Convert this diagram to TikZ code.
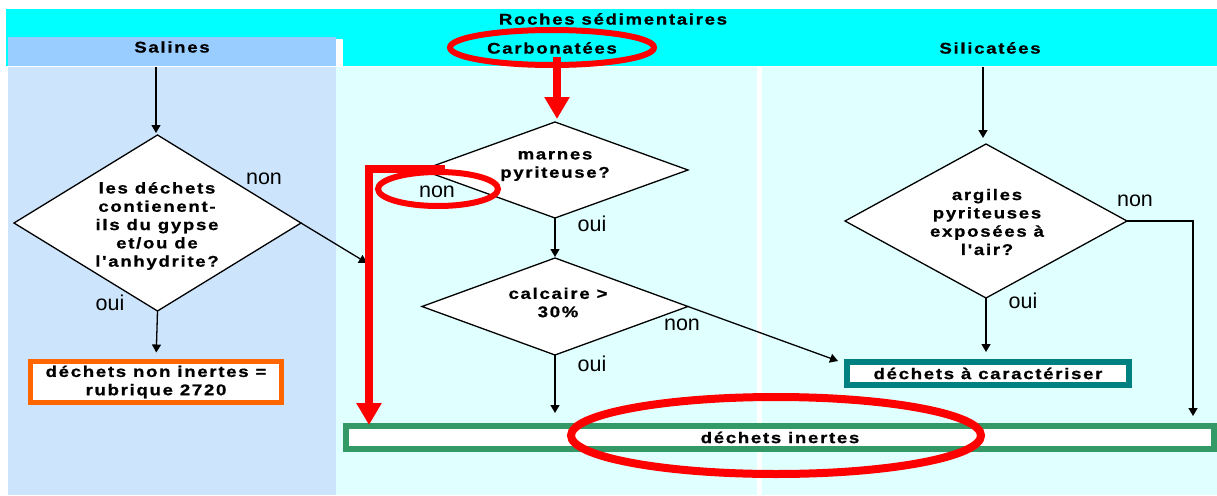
\documentclass[tikz,border=0pt]{standalone}
\usepackage{fontspec}
\setmainfont{Liberation Sans}
\newfontfamily\bsp{Liberation Sans}[LetterSpace=11,FakeStretch=1.2,FakeBold=0.8,Ligatures=TeXOff]
\usetikzlibrary{shapes.geometric,arrows.meta}
\definecolor{cyanb}{HTML}{00FFFF}
\definecolor{salhc}{HTML}{99CCFF}
\definecolor{salcc}{HTML}{CCE5FC}
\definecolor{carcc}{HTML}{E0FFFF}
\definecolor{orangeb}{HTML}{FF6600}
\definecolor{tealb}{HTML}{008080}
\definecolor{greenb}{HTML}{339966}
\begin{document}
\begin{tikzpicture}[x=1pt,y=-1pt,
  bt/.style={font=\bsp\bfseries\fontsize{15.5}{18.3}\selectfont, align=center, inner sep=0pt},
  lab/.style={font=\fontsize{21.5}{25}\selectfont, inner sep=0pt},
  dia/.style={diamond, draw=black, fill=white, line width=1.3pt, inner sep=0pt, outer sep=0pt},
  arr/.style={draw=black, line width=1.3pt, -{Triangle[length=8pt,width=9pt]}},
  redarr/.style={draw=red, line width=8pt, -{Triangle[length=22pt,width=24pt]}},
  box/.style={rectangle, fill=white, inner sep=0pt, outer sep=0pt}]
% backgrounds
\useasboundingbox (0,0) rectangle (1217,495);
\fill[white] (0,0) rectangle (1217,495);
\fill[cyanb] (6,9) rectangle (1217,66);
\fill[white] (336,39) rectangle (343,67);
\fill[salhc] (8,37) rectangle (336,66.3);
\fill[salcc] (8,67) rectangle (336,495);
\fill[carcc] (336,67) rectangle (757,495);
\fill[carcc] (762,67) rectangle (1217,495);
% headers
\node[bt] (roches) at (613,19) {Roches sédimentaires};
\node[bt] (salines) at (172,47) {Salines};
\node[bt] (carbo) at (552,48) {Carbonatées};
\node[bt] (silic) at (990,48) {Silicatées};
\coordinate (salS) at (156,67);
\coordinate (carS) at (557,57);
\coordinate (silS) at (983,67);
% diamonds
\node[dia, minimum width=287pt, minimum height=176pt] (d1) at (157.5,223) {};
\node[dia, minimum width=266pt, minimum height=96pt] (d2) at (555,170) {};
\node[dia, minimum width=266pt, minimum height=97pt] (d3) at (555,306.5) {};
\node[dia, minimum width=282pt, minimum height=154pt] (d4) at (986,221) {};
\node[bt] (t1) at (157,226) {les déchets\\contienent-\\ils du gypse\\et/ou de\\l'anhydrite?};
\node[bt] (t2) at (555,166) {marnes\\pyriteuse?};
\node[bt] (t3) at (558,302.5) {calcaire >\\30\%};
\node[bt] (t4) at (987,222) {argiles\\pyriteuses\\exposées à\\l'air?};
% result boxes
\node[box, bt, draw=orangeb, line width=5pt, minimum width=251pt, minimum height=41pt] (nonin) at (156,382) {déchets non inertes =\\rubrique 2720};
\node[box, bt, draw=tealb, line width=6pt, minimum width=282pt, minimum height=23pt] (carac) at (988,373.5) {déchets à caractériser};
\node[box, bt, draw=greenb, line width=6pt, minimum width=868pt, minimum height=23pt] (inertes) at (780,437.5) {déchets inertes};
% free ends
\coordinate (e1) at (367,263);
\coordinate (e3) at (838,361);
\coordinate (e4) at (1193,222);
% connectors
\draw[arr, shorten >=2pt] (salS) -- (salS |- d1.north);
\draw[arr, shorten >=9pt] (d1.south) -- (nonin.north);
\draw[arr] (d1.east) -- (e1);
\draw[arr, shorten >=1pt] (d2.south) -- (d3.north);
\draw[arr, shorten >=13pt] (d3.south) -- (d3.south |- inertes.north);
\draw[arr] (d3.east) -- (e3);
\draw[arr, shorten >=6pt] (silS) -- (silS |- d4.north);
\draw[arr, shorten >=10pt] (d4.south) -- (d4.south |- carac.north);
\draw[arr, shorten >=10pt] (d4.east) -- (d4.east -| e4) -- (e4 |- inertes.north);
% labels
\node[lab] (n1) at (264,179) {non};
\node[lab] (o1) at (110,303) {oui};
\node[lab] (n2) at (437,192) {non};
\node[lab] (o2) at (592,224) {oui};
\node[lab] (n3) at (682,325) {non};
\node[lab] (o3) at (592,364) {oui};
\node[lab] (n4) at (1135,201) {non};
\node[lab] (o4) at (1023,300.7) {oui};
% red annotations
\draw[red, line width=6pt] (552,47.5) ellipse [x radius=102pt, y radius=17.5pt];
\draw[red, line width=6pt] (438,189) ellipse [x radius=60pt, y radius=17pt];
\draw[red, line width=8pt] (776,435.5) ellipse [x radius=205pt, y radius=38.5pt];
\draw[redarr] (carS) -- ([yshift=3pt]carS |- d2.north);
\coordinate (nonR) at (445,169);
\coordinate (redX) at (369,169);
\draw[redarr] (nonR) -- (redX) -- ([yshift=1pt]redX |- inertes.north);
\end{tikzpicture}
\end{document}
